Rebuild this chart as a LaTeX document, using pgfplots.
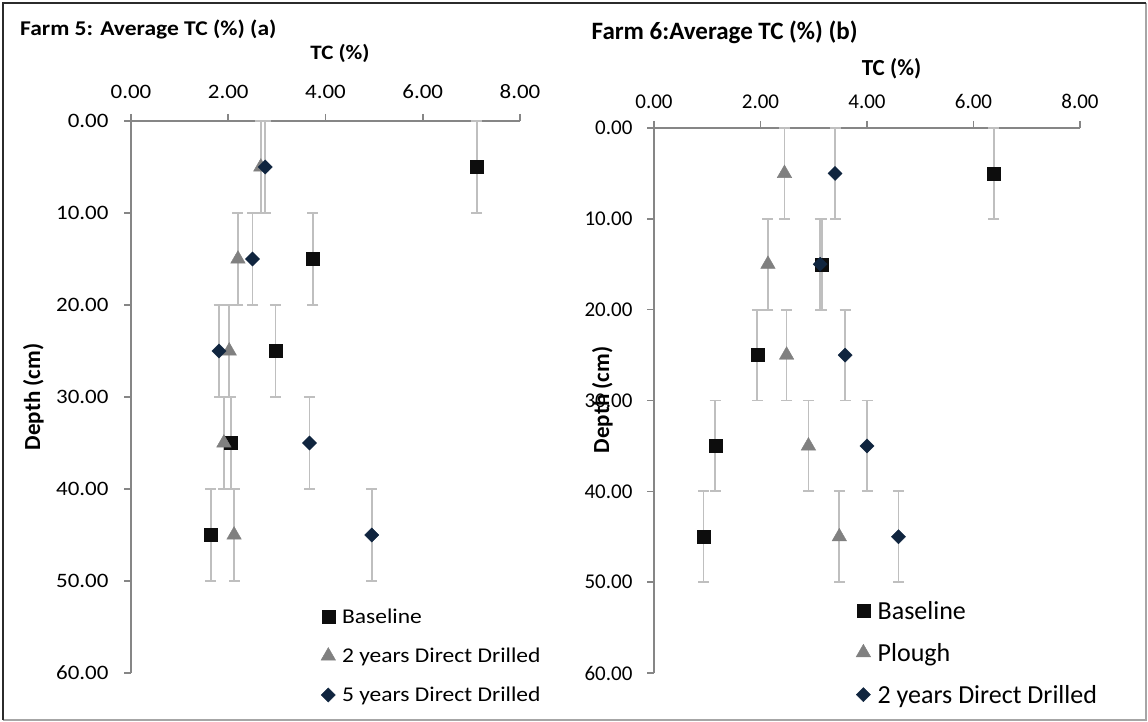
\documentclass[border=0pt]{standalone}
\usepackage{fontspec}
\setmainfont{Carlito}
\newfontfamily\fa{Carlito}[FakeStretch=1.12]
\usepackage{pgfplots}
\pgfplotsset{compat=1.18}
\definecolor{sqc}{HTML}{0D0D0D}
\definecolor{trc}{HTML}{808080}
\definecolor{dmc}{HTML}{10253F}
\definecolor{ebc}{HTML}{BFBFBF}
\definecolor{axc}{HTML}{868686}
\definecolor{frc}{HTML}{2B2B2B}
\definecolor{frl}{HTML}{A6A6A6}

\pgfplotsset{
  tcstyle/.style={
    scale only axis,
    xmin=0,xmax=8,ymin=0,ymax=60,
    y dir=reverse,
    axis x line*=top,
    axis y line*=left,
    xtick={0,2,4,6,8}, ytick={0,10,20,30,40,50,60},
    tick align=outside,
    major tick length=7pt,
    axis line style={draw=axc,line width=1.6pt,-},
    tick style={draw=axc,line width=1.6pt},
    /pgf/number format/.cd, fixed, fixed zerofill, precision=2, assume math mode=true, /pgfplots/.cd,
    legend cell align=left,
    legend image code/.code={\draw[##1] plot coordinates {(0pt,0pt)};},
    clip=false,
  },
  ebar/.style={only marks,
    error bars/y dir=both, error bars/y fixed=5,
    error bars/error mark=-,
    error bars/error bar style={draw=ebc,line width=1.8pt},
    error bars/error mark options={rotate=90,draw=ebc,line width=1.8pt,mark size=5.5pt}},
  sq/.style={ebar, mark=square*, mark size=6.5pt, mark options={draw=sqc,fill=sqc}},
  tr/.style={ebar, mark=triangle*, mark size=8.4pt, mark options={draw=trc,fill=trc}},
  dm/.style={ebar, mark=square*, mark size=5pt, mark options={draw=dmc,fill=dmc,rotate=45}},
}

\begin{document}
\begin{tikzpicture}
\useasboundingbox (0pt,0pt) rectangle (1148pt,722pt);
% frame
\draw[frl,line width=1.6pt] (2.5pt,2pt) -- (1146pt,2pt) -- (1146pt,719pt);
\draw[frc,line width=2pt] (2.5pt,2pt) -- (2.5pt,719pt) -- (1146pt,719pt);

% ---------- Panel (a) ----------
\begin{axis}[tcstyle,
  at={(131pt,601pt)}, anchor=north west,
  width=389pt, height=552pt,
  tick label style={font=\fa\fontsize{20.5}{24}\selectfont},
  xticklabel shift=12pt, yticklabel shift=12pt,
  legend style={draw=none, fill=none, inner sep=0pt,
    at={(axis description cs:0.488,0.12)}, anchor=north west,
    column sep=6.5pt, row sep=19pt,
    font=\fa\fontsize{21}{24}\selectfont,
    nodes={inner sep=0pt, text height=17pt, text depth=3pt}},
]
\addplot+[sq] coordinates {(7.11,5) (3.74,15) (2.97,25) (2.05,35) (1.64,45)};
\addlegendentry{Baseline}
\addplot+[tr] coordinates {(2.67,5) (2.20,15) (2.02,25) (1.91,35) (2.12,45)};
\addlegendentry{2 years Direct Drilled}
\addplot+[dm] coordinates {(2.76,5) (2.50,15) (1.81,25) (3.67,35) (4.95,45)};
\addlegendentry{5 years Direct Drilled}
\end{axis}

% ---------- Panel (b) ----------
\begin{axis}[tcstyle,
  at={(654pt,594pt)}, anchor=north west,
  width=426pt, height=545pt,
  tick label style={font=\fontsize{21}{24}\selectfont},
  xticklabel shift=9pt, yticklabel shift=11pt,
  legend style={draw=none, fill=none, inner sep=0pt,
    at={(axis description cs:0.474,0.136)}, anchor=north west,
    column sep=7pt, row sep=18.8pt,
    font=\fontsize{26}{30}\selectfont,
    nodes={inner sep=0pt, text height=20pt, text depth=3.2pt}},
]
\addplot+[sq] coordinates {(6.38,5) (3.15,15) (1.94,25) (1.15,35) (0.93,45)};
\addlegendentry{Baseline}
\addplot+[tr] coordinates {(2.45,5) (2.14,15) (2.49,25) (2.90,35) (3.48,45)};
\addlegendentry{Plough}
\addplot+[dm] coordinates {(3.40,5) (3.12,15) (3.59,25) (4.00,35) (4.59,45)};
\addlegendentry{2 years Direct Drilled}
\end{axis}

% titles and axis labels
\node[anchor=west,inner sep=0pt,font=\fa\bfseries\fontsize{21}{24}\selectfont] at (20pt,693pt) {Farm 5: Average TC (\%) (a)};
\node[anchor=west,inner sep=0pt,font=\bfseries\fontsize{25}{28}\selectfont] at (591.5pt,690pt) {Farm 6:Average TC (\%) (b)};
\node[inner sep=0pt,font=\fa\bfseries\fontsize{20.5}{24}\selectfont] at (340pt,669pt) {TC (\%)};
\node[inner sep=0pt,font=\bfseries\fontsize{23}{26}\selectfont] at (891.5pt,653pt) {TC (\%)};
\node[rotate=90,inner sep=0pt,font=\bfseries\fontsize{23}{26}\selectfont] at (33.5pt,325pt) {Depth (cm)};
\node[rotate=90,inner sep=0pt,font=\bfseries\fontsize{23}{26}\selectfont] at (602.5pt,322pt) {Depth (cm)};
\end{tikzpicture}
\end{document}
